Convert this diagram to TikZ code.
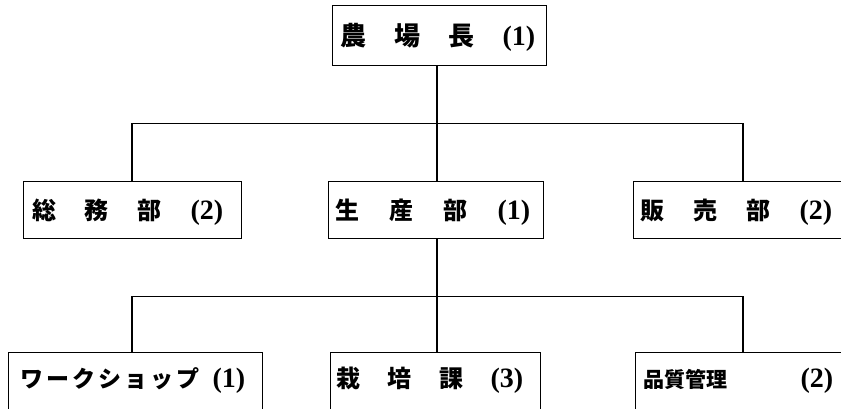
\documentclass[tikz,border=0pt]{standalone}
\usepackage{fontspec}
\setmainfont{Liberation Serif}
\newfontfamily\jp{Noto Sans CJK JP}
\usetikzlibrary{calc}
\newcommand\paren[1]{{\rmfamily\bfseries\fontsize{28}{28}\selectfont #1}}
\newcommand\ks{\hskip 3pt}
\begin{document}
\begin{tikzpicture}[x=1pt,y=-1pt,
  orgbox/.style={draw, line width=1.3pt, inner sep=0pt, anchor=north west},
  lbl/.style={anchor=base west, inner sep=0pt, font=\jp\fontsize{24}{24}\selectfont\bfseries},
  bus/.style={line width=1pt},
  stem/.style={line width=2.2pt}]
\useasboundingbox (0,0) rectangle (841,408);
\clip (0,0) rectangle (841,408);
\fill[white] (0,0) rectangle (841,408);

% boxes
\node[orgbox, minimum width=214pt, minimum height=60pt] (top) at (332,5) {};
\node[orgbox, minimum width=218pt, minimum height=57pt] (gl) at (23,181) {};
\node[orgbox, minimum width=215pt, minimum height=57pt] (gm) at (328,181) {};
\node[orgbox, minimum width=250pt, minimum height=57pt] (gr) at (633,181) {};
\node[orgbox, minimum width=254pt, minimum height=80pt] (bl) at (8,352) {};
\node[orgbox, minimum width=210pt, minimum height=80pt] (bm) at (330,352) {};
\node[orgbox, minimum width=240pt, minimum height=80pt] (br) at (635,352) {};

% labels
\node[lbl, font=\jp\fontsize{26}{26}\selectfont\bfseries] (ttop) at ($(top.north west)+(8,40)$) {\hbox to 195pt{農\hfill 場\hfill 長\hfill\paren{(1)}}};
\node[lbl] (tgl) at ($(gl.north west)+(9,38)$) {\hbox to 191pt{総\hfill 務\hfill 部\hfill\paren{(2)}}};
\node[lbl] (tgm) at ($(gm.north west)+(7,38)$) {\hbox to 195pt{生\hfill 産\hfill 部\hfill\paren{(1)}}};
\node[lbl] (tgr) at ($(gr.north west)+(7,38)$) {\hbox to 192pt{販\hfill 売\hfill 部\hfill\paren{(2)}}};
\node[lbl, font=\jp\fontsize{23}{23}\selectfont\bfseries] (tbl) at ($(bl.north west)+(12,35)$) {\hbox to 225pt{ワ\ks ー\ks ク\ks シ\ks ョ\ks ッ\ks プ\hfill\paren{(1)}}};
\node[lbl] (tbm) at ($(bm.north west)+(6,35)$) {\hbox to 187pt{栽\hfill 培\hfill 課\hfill\paren{(3)}}};
\node[lbl] (tbr) at ($(br.north west)+(8,35)$) {\hbox to 190pt{{\fontsize{21}{21}\selectfont 品質管理}\hfill\paren{(2)}}};

% bus coordinates
\coordinate (a1) at (132,123);
\coordinate (c1) at (437,123);
\coordinate (z1) at (743,123);
\coordinate (a2) at (132,296);
\coordinate (c2) at (437,296);
\coordinate (z2) at (743,296);

% first level
\draw[stem] (c1 |- top.south) -- (c1);
\draw[bus] (a1) -- (z1);
\draw[stem] (a1 |- gl.north) -- (a1);
\draw[stem] (c1) -- (c1 |- gm.north);
\draw[stem] (z1) -- (z1 |- gr.north);

% second level
\draw[stem] (c2 |- gm.south) -- (c2);
\draw[bus] (a2) -- (z2);
\draw[stem] (a2) -- (a2 |- bl.north);
\draw[stem] (c2) -- (c2 |- bm.north);
\draw[stem] (z2) -- (z2 |- br.north);
\end{tikzpicture}
\end{document}
